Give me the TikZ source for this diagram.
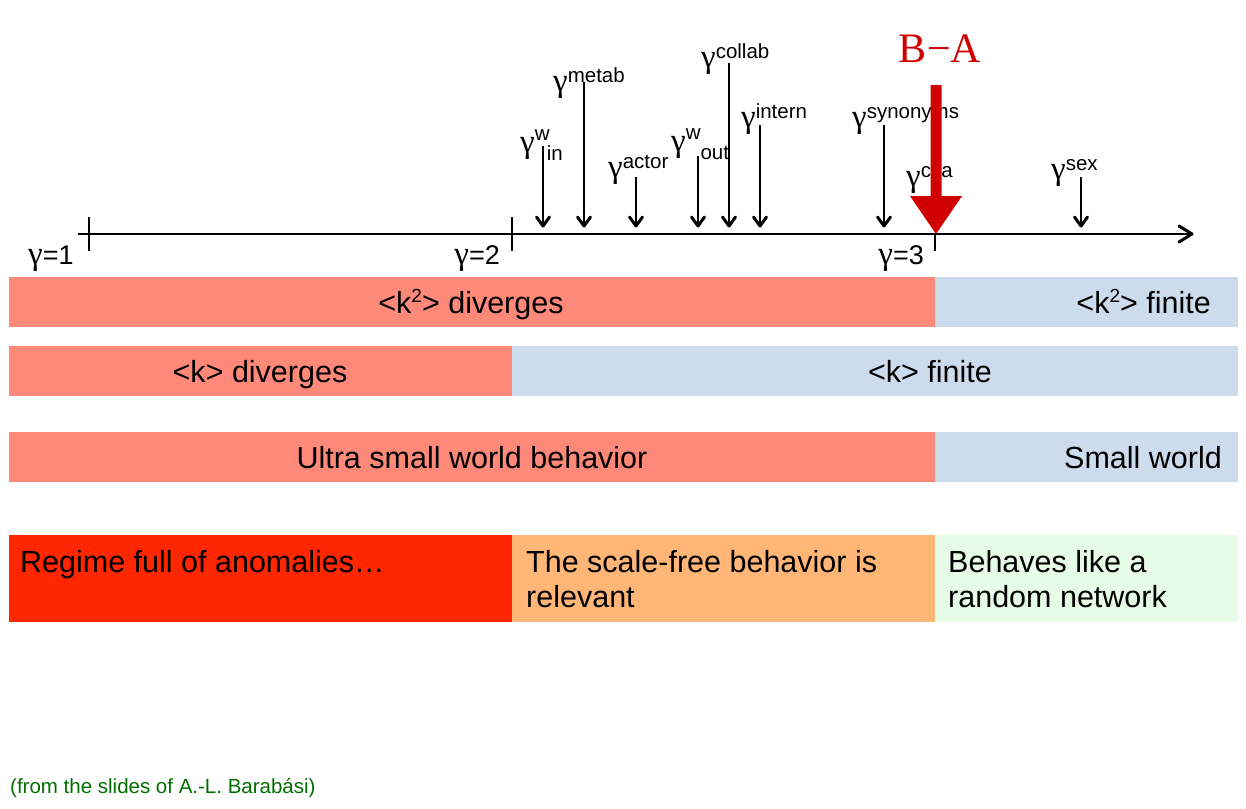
\documentclass[tikz,border=0pt]{standalone}
\usepackage{fontspec}
\setmainfont{Liberation Sans}
\newfontfamily\serifA{Liberation Serif}
\usetikzlibrary{arrows.meta}
\definecolor{salmon}{HTML}{FF8978}
\definecolor{lblue}{HTML}{CCDCEC}
\definecolor{hotred}{HTML}{FF2600}
\definecolor{orng}{HTML}{FFB677}
\definecolor{lgreen}{HTML}{E6FCE6}
\definecolor{barred}{HTML}{D00000}
\definecolor{fgreen}{HTML}{006E00}
\newcommand{\gsize}{\fontsize{33}{34}\selectfont}
\newcommand{\ssize}{\fontsize{20.5}{24}\selectfont}
\newcommand{\gam}{{\serifA\gsize γ}}
\newcommand{\gup}[1]{\gam\raisebox{9pt}{\ssize #1}}
\newcommand{\ksq}{<k\raisebox{11pt}{\fontsize{19}{20}\selectfont 2}>}
\begin{document}
\begin{tikzpicture}[x=1pt,y=-1pt,
  bartext/.style={anchor=base, inner sep=0pt, font=\fontsize{30.5}{35}\selectfont},
  boxtext/.style={anchor=base west, inner sep=0pt, font=\fontsize{30.5}{35}\selectfont},
  glabel/.style={anchor=base west, inner sep=0pt},
  garrow/.style={line width=1.3pt},
  chev/.style={line width=3pt, line cap=round, line join=round},
  tickline/.style={line width=2.2pt},
  axlabel/.style={anchor=base east, inner sep=0pt, font=\fontsize{27}{30}\selectfont}]
\useasboundingbox (0,0) rectangle (1246,808);

% bars
\fill[salmon] (9,277) rectangle (935,327);
\fill[lblue] (935,277) rectangle (1238,327);
\fill[salmon] (9,346) rectangle (512,396);
\fill[lblue] (512,346) rectangle (1238,396);
\fill[salmon] (9,432) rectangle (935,482);
\fill[lblue] (935,432) rectangle (1238,482);
\fill[hotred] (9,535) rectangle (512,622);
\fill[orng] (512,535) rectangle (935,622);
\fill[lgreen] (935,535) rectangle (1238,622);

\node[bartext] (k2d) at (471,313) {\ksq{} diverges};
\node[bartext, anchor=base east] (k2f) at (1211,313) {\ksq{} finite};
\node[bartext] (kd) at (260,382) {<k> diverges};
\node[bartext] (kf) at (930,382) {<k> finite};
\node[bartext] (usw) at (472,468) {Ultra small world behavior};
\node[bartext, anchor=base east] (sw) at (1222,468) {Small world};

\node[boxtext] (anom) at (20,572) {Regime full of anomalies…};
\node[boxtext] (sfree) at (526,572) {\vtop{\baselineskip=35pt\hbox{The scale-free behavior is}\hbox{relevant}}};
\node[boxtext] (rand) at (948,572) {\vtop{\baselineskip=35pt\hbox{Behaves like a}\hbox{random network}}};

% axis
\coordinate (ax0) at (78,234);
\coordinate (ax1) at (1192,234);
\draw[line width=1.5pt] (ax0) -- (ax1);
\draw[chev] ([shift={(-13,-8)}]ax1) -- (ax1) -- ([shift={(-13,8)}]ax1);
\coordinate (t1a) at (89,217); \coordinate (t1b) at (89,251);
\coordinate (t2a) at (512,217); \coordinate (t2b) at (512,251);
\coordinate (t3a) at (935,234); \coordinate (t3b) at (935,251);
\draw[tickline] (t1a) -- (t1b);
\draw[tickline] (t2a) -- (t2b);
\draw[tickline] (t3a) -- (t3b);
\node[axlabel, anchor=base west] (g1) at (28,264) {\gam=1};
\node[axlabel] (g2) at (500,264) {\gam=2};
\node[axlabel] (g3) at (924,264) {\gam=3};

% gamma labels
\node[glabel] (lwin) at (520,152) {\gam\rlap{\raisebox{12pt}{\ssize w}}\kern12pt\raisebox{-8pt}{\ssize in}};
\node[glabel] (lmetab) at (553,91) {\gup{metab}};
\node[glabel] (lactor) at (608,177) {\gup{actor}};
\node[glabel] (lwout) at (671,151) {\gam\raisebox{12pt}{\ssize w}\raisebox{-8pt}{\ssize out}};
\node[glabel] (lcollab) at (701,67) {\gup{collab}};
\node[glabel] (lintern) at (741,127) {\gup{intern}};
\node[glabel] (lsyn) at (852,127) {\gup{synonyms}};
\node[glabel] (lcita) at (906,186) {\gup{cita}};
\node[glabel] (lsex) at (1051,179) {\gup{sex}};

% gamma arrows
\foreach \n/\x/\t in {win/543/146, metab/584/82, actor/636/177, wout/698/156, collab/729/63, intern/760/125, syn/884/125, sex/1081/177}{
  \coordinate (a\n) at (\x,\t);
  \coordinate (b\n) at (\x,226);
  \draw[garrow] (a\n) -- (b\n);
  \draw[chev] ([shift={(-6.5,-9)}]b\n) -- (b\n) -- ([shift={(6.5,-9)}]b\n);
}

% B-A arrow
\fill[barred] (930.5,85) -- (941.5,85) -- (941.5,196) -- (962,196) -- (936,234) -- (910,196) -- (930.5,196) -- cycle;
\node[anchor=base, inner sep=0pt, text=barred, font=\serifA\fontsize{42}{46}\selectfont] (ba) at (940,63) {B−A};

% source
\node[anchor=base west, inner sep=0pt, text=fgreen, font=\fontsize{20.5}{24}\selectfont] (src) at (10,793) {(from the slides of A.-L. Barabási)};
\end{tikzpicture}
\end{document}
